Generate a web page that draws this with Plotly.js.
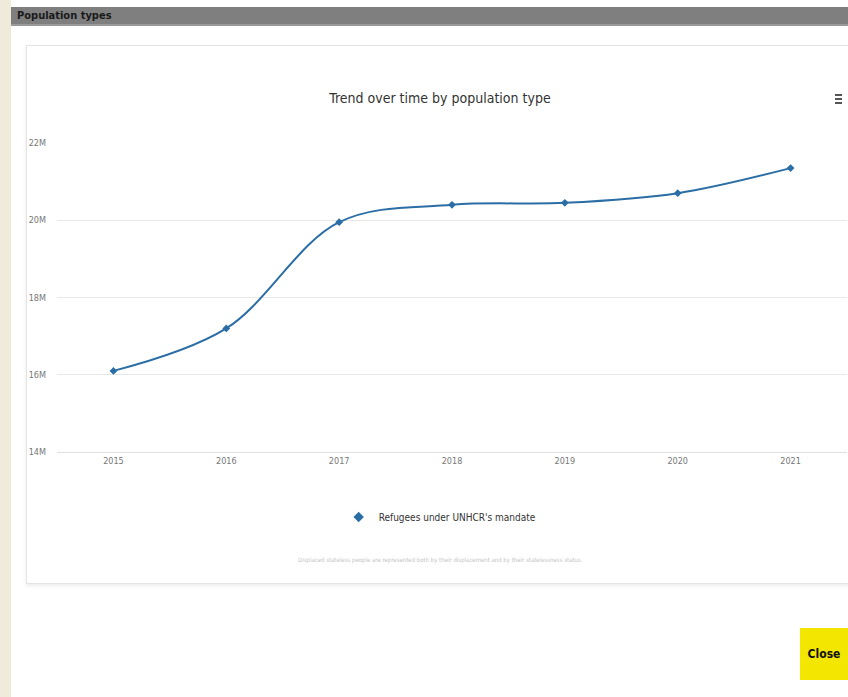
<!DOCTYPE html>
<html>
<head>
<meta charset="utf-8">
<script src="https://cdn.plot.ly/plotly-3.0.1.min.js"></script>
<style>
  html, body { margin:0; padding:0; width:848px; height:697px; overflow:hidden; background:#ffffff; font-family:"DejaVu Sans Condensed","Liberation Sans",sans-serif; }
  #strip { position:absolute; left:0; top:0; width:11px; height:697px; background:#efebdb; }
  #header { position:absolute; left:11px; top:7px; width:837px; height:17px; background:#7f7f7f; border-bottom:2px solid #9a9a9a; overflow:hidden; }
  #header span { position:absolute; left:6px; top:2px; font-size:11px; line-height:13px; font-weight:bold; color:#1a1a1a; }
  #card { position:absolute; left:26px; top:45px; width:840px; height:537px; background:#ffffff; border:1px solid #e4e4e4; box-shadow:0 2px 4px rgba(0,0,0,0.08); }
  #close { position:absolute; left:800px; top:628px; width:48px; height:52px; background:#f3e600; color:#111; font-size:12px; font-weight:bold; text-align:center; line-height:52px; }
  #menu { position:absolute; left:835px; top:94px; width:7px; }
  #menu div { height:2px; background:#555; margin-bottom:2px; }
  #chart { position:absolute; left:0; top:0; width:848px; height:697px; }
</style>
</head>
<body>
<div id="strip"></div>
<div id="header"><span>Population types</span></div>
<div id="card"></div>
<div id="menu"><div></div><div></div><div></div></div>
<div id="close">Close</div>
<div id="chart"></div>
<script>
const years = ['2015', '2016', '2017', '2018', '2019', '2020', '2021'];
const refugees = [16100000, 17200000, 19950000, 20400000, 20450000, 20700000, 21350000];
const seriesName = "Refugees under UNHCR's mandate";
const yTickVals = [14000000, 16000000, 18000000, 20000000, 22000000];
const yTickText = ['14M', '16M', '18M', '20M', '22M'];
const chartTitle = 'Trend over time by population type';
const footnote = 'Displaced stateless people are represented both by their displacement and by their statelessness status.';

const font = '"DejaVu Sans Condensed", "Liberation Sans", sans-serif';
const lineColor = '#2b6ea5';

Plotly.newPlot('chart', [{
  x: years,
  y: refugees,
  name: seriesName,
  type: 'scatter',
  mode: 'lines+markers',
  line: { color: lineColor, width: 2, shape: 'spline', smoothing: 1 },
  marker: { symbol: 'diamond', size: 6, color: lineColor },
  showlegend: false
}, {
  x: [years[0]],
  y: [null],
  name: seriesName,
  type: 'scatter',
  mode: 'markers',
  marker: { symbol: 'diamond', size: 8, color: lineColor },
  showlegend: true,
  hoverinfo: 'skip'
}], {
  width: 848,
  height: 697,
  margin: { l: 57, r: 1, t: 143, b: 245 },
  paper_bgcolor: 'rgba(0,0,0,0)',
  plot_bgcolor: 'rgba(0,0,0,0)',
  font: { family: font, color: '#666666', size: 9 },
  title: {
    text: chartTitle,
    font: { family: font, size: 14, color: '#333333' },
    x: 440 / 848, xanchor: 'center', xref: 'container',
    y: 1 - 98 / 697, yanchor: 'middle', yref: 'container'
  },
  xaxis: {
    type: 'category',
    range: [-0.5, 6.5],
    showgrid: false,
    zeroline: false,
    showline: true,
    linecolor: '#e0e0e0',
    linewidth: 1,
    ticks: '',
    tickfont: { family: font, size: 9, color: '#777777' },
    fixedrange: true
  },
  yaxis: {
    range: [14000000, 22000000],
    tickvals: yTickVals,
    ticktext: yTickText,
    showgrid: true,
    gridcolor: '#e8e8e8',
    gridwidth: 1,
    zeroline: false,
    showline: false,
    ticks: '',
    ticklabelstandoff: 10,
    tickfont: { family: font, size: 9, color: '#777777' },
    fixedrange: true
  },
  legend: {
    orientation: 'h',
    x: 0.485, xanchor: 'center',
    y: (452 - 517) / 309, yanchor: 'middle',
    font: { family: font, size: 10, color: '#333333' },
    bgcolor: 'rgba(0,0,0,0)',
    itemwidth: 30
  },
  annotations: [{
    text: footnote,
    xref: 'paper', yref: 'paper',
    x: 0.485, xanchor: 'center',
    y: (452 - 560) / 309, yanchor: 'middle',
    showarrow: false,
    font: { family: font, size: 6, color: '#c4c4c4' }
  }]
}, { displayModeBar: false, staticPlot: true });
</script>
</body>
</html>
